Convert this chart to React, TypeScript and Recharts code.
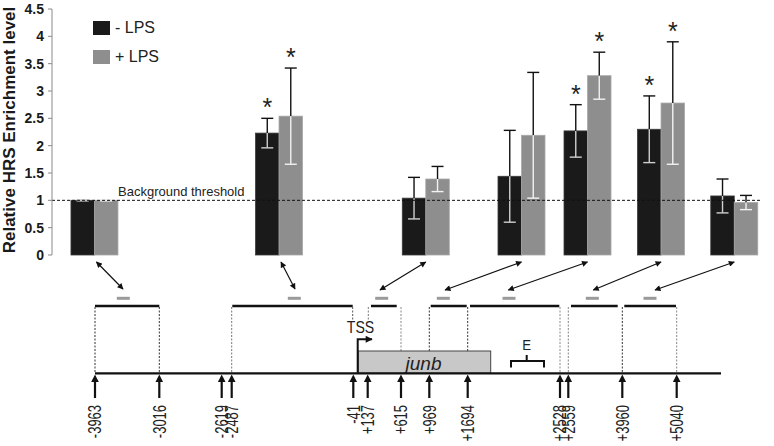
import React from 'react';
import { ComposedChart, Bar, XAxis, YAxis, ReferenceLine, Legend, Customized, Label } from 'recharts';

// ---------- data ----------
const regions = ['-3963/-3016', '-2487/-41', '+137/+615', '+969/+1694', '+1694/+2528', '+2559/+3960', '+3960/+5040'];
const regionSlots = [5.92, 31.95, 52.65, 66.15, 75.46, 85.83, 96.16];
const minusLPS = [1.0, 2.23, 1.04, 1.44, 2.27, 2.3, 1.08];
const minusSD = [0.01, 0.27, 0.38, 0.84, 0.48, 0.61, 0.31];
const minusSig = [false, true, false, false, true, true, false];
const plusLPS = [1.0, 2.54, 1.39, 2.19, 3.28, 2.78, 0.96];
const plusSD = [0.01, 0.88, 0.23, 1.15, 0.43, 1.12, 0.13];
const plusSig = [false, true, false, false, true, true, false];
const yTicks = [0, 0.5, 1, 1.5, 2, 2.5, 3, 3.5, 4, 4.5];
const threshold = 1;
const seriesOrder = ['minus', 'plus'];
const markerLabels = ['-3963', '-3016', '-2619', '-2487', '-41', '+137', '+615', '+969', '+1694', '+2528', '+2559', '+3960', '+5040'];

const data = regions.map((r, i) => ({
  region: r,
  slot: regionSlots[i],
  minus: minusLPS[i],
  minusSD: minusSD[i],
  minusSig: minusSig[i],
  plus: plusLPS[i],
  plusSD: plusSD[i],
  plusSig: plusSig[i],
}));

// ---------- schematic layout (diagram, not data) ----------
const markerX = [95, 159.3, 221.7, 231.7, 353.3, 367.7, 401, 429.3, 467.7, 560, 568.3, 622.3, 676.7];
const segs: [number, number][] = [[95, 159.3], [232.3, 352.7], [371, 396.7], [430.7, 466.7], [470, 559.3], [571, 617.7], [624.3, 676]];
const dashX = [123.3, 294.3, 381.7, 443.3, 509, 592.3, 650];
const arrowEnd: [number, number][] = [[123, 289], [295, 289], [380, 290], [445, 290], [508.3, 290], [593.3, 290], [655, 290]];
const guides: [number, number, string][] = [
  [95, 373, '#333'], [159.3, 373, '#333'], [231.7, 373, '#777'], [352.7, 320, '#555'], [368.3, 320, '#777'],
  [401, 351, '#888'], [429.3, 351, '#333'], [467.7, 351, '#333'], [560, 373, '#888'], [568.3, 373, '#888'],
  [622.3, 373, '#333'], [676.7, 373, '#888'],
];
const SANS = '"Liberation Sans", Arial, sans-serif';

const makeShape = (valKey: string, sdKey: string, sigKey: string, fill: string, inner: string, withArrow: boolean) =>
  (props: any) => {
    const { x, y, width, height, payload, index } = props;
    const v = payload[valKey];
    const k = v > 0 ? height / v : 0;
    const cx = x + width / 2;
    const sd = payload[sdKey];
    const yHi = y - sd * k;
    const yLo = y + sd * k;
    const topColor = yHi < y - 2 ? '#111' : inner;
    return (
      <g>
        <rect x={x} y={y} width={width} height={height} fill={fill} stroke={fill === '#1a1a1a' ? '#3a3a3a' : '#a8a8a8'} strokeWidth={0.8} />
        <line x1={cx} x2={cx} y1={yHi} y2={y} stroke="#111" strokeWidth={1.4} />
        <line x1={cx} x2={cx} y1={y} y2={yLo} stroke={inner} strokeWidth={1.4} />
        <line x1={cx - 6} x2={cx + 6} y1={yHi} y2={yHi} stroke={topColor} strokeWidth={1.4} />
        <line x1={cx - 6} x2={cx + 6} y1={yLo} y2={yLo} stroke={inner} strokeWidth={1.4} />
        {payload[sigKey] && (
          <text x={cx} y={yHi - 2} textAnchor="middle" fontSize={25} fontFamily={SANS} fill="#222">*</text>
        )}
        {withArrow && (
          <line x1={x + (index < 2 ? 2 : 0)} y1={262} x2={arrowEnd[index][0]} y2={arrowEnd[index][1]} stroke="#111" strokeWidth={1.2}
            markerStart="url(#ah)" markerEnd="url(#ah)" />
        )}
      </g>
    );
  };

const Schematic = () => (
  <g>
    <defs>
      <marker id="ah" viewBox="0 0 10 10" refX="9" refY="5" markerWidth="7" markerHeight="6" markerUnits="userSpaceOnUse" orient="auto-start-reverse">
        <path d="M0,0 L10,5 L0,10 z" fill="#111" />
      </marker>
      <marker id="ah2" viewBox="0 0 10 10" refX="9" refY="5" markerWidth="8" markerHeight="7" markerUnits="userSpaceOnUse" orient="auto">
        <path d="M0,0 L10,5 L0,10 z" fill="#111" />
      </marker>
    </defs>
    {dashX.map((x, i) => (
      <line key={'d' + i} x1={x - 6.5} x2={x + 6.5} y1={298.3} y2={298.3} stroke="#9a9a9a" strokeWidth={3} />
    ))}
    {segs.map(([a, b], i) => (
      <line key={'s' + i} x1={a} x2={b} y1={306} y2={306} stroke="#111" strokeWidth={2.5} />
    ))}
    {guides.map(([x, y2, c], i) => (
      <line key={'g' + i} x1={x} x2={x} y1={307} y2={y2} stroke={c} strokeWidth={1} strokeDasharray="2 1.5" />
    ))}
    <rect x={358.3} y={351} width={132.4} height={22.3} fill="#c8c8c8" stroke="#444" strokeWidth={1} />
    <text x={423.5} y={369.5} textAnchor="middle" fontSize={19} fontStyle="italic" fontFamily={SANS} fill="#222">junb</text>
    <path d="M357.7,373 V339.3 H372" fill="none" stroke="#111" strokeWidth={2} markerEnd="url(#ah2)" />
    <text transform="translate(360.5,333) scale(0.88,1)" textAnchor="middle" fontSize={16} fontFamily={SANS} fill="#222">TSS</text>
    <path d="M511,367.5 V361 H544 V367.5 M526.7,361 V355" fill="none" stroke="#111" strokeWidth={2} />
    <text transform="translate(526.7,350) scale(0.88,1)" textAnchor="middle" fontSize={15} fontFamily={SANS} fill="#222">E</text>
    <line x1={95} x2={721} y1={373.3} y2={373.3} stroke="#111" strokeWidth={2.2} />
    {markerX.map((x, i) => (
      <g key={'m' + i}>
        <line x1={x} x2={x} y1={398} y2={380} stroke="#111" strokeWidth={2.2} />
        <path d={`M${x - 3.8},${382} L${x},${374.5} L${x + 3.8},${382} z`} fill="#111" />
        <text transform={`translate(${x},405) rotate(-90) scale(0.72,1)`} textAnchor="end" dy="0.35em" fontSize={18} fontFamily={SANS} fill="#222">
          {markerLabels[i]}
        </text>
      </g>
    ))}
  </g>
);

const LegendContent = (props: any) => {
  const items = [...(props.payload || [])].sort(
    (a: any, b: any) => seriesOrder.indexOf(a.dataKey) - seriesOrder.indexOf(b.dataKey)
  );
  return (
    <div style={{ fontFamily: SANS, fontSize: 16, color: '#222' }}>
      {items.map((it: any, i: number) => (
        <div key={i} style={{ display: 'flex', alignItems: 'center', height: 29 }}>
          <span style={{ display: 'inline-block', width: 17, height: 14, background: it.color, marginRight: 5 }} />
          <span style={{ lineHeight: '16px' }}>{it.value}</span>
        </div>
      ))}
    </div>
  );
};

export default function App() {
  return (
    <div style={{ position: 'absolute', left: 0, top: 0, width: 774, height: 446, background: '#fff' }}>
      <ComposedChart width={774} height={446} data={data} margin={{ top: 9, right: 13, bottom: 191, left: 0 }} barGap={0}>
        <XAxis dataKey="slot" type="number" domain={[0, 100]} tick={false} tickLine={false} axisLine={{ stroke: '#555' }} height={0} />
        <YAxis
          domain={[0, 4.5]}
          ticks={yTicks}
          width={52}
          interval={0}
          tickSize={4}
          tickMargin={4}
          axisLine={{ stroke: '#8a8a8a' }}
          tickLine={{ stroke: '#8a8a8a' }}
          tick={{ fontSize: 14, fontWeight: 700, fontFamily: SANS, fill: '#1a1a1a' }}
          tickFormatter={(v: number) => String(v)}
        >
          <Label
            content={() => (
              <text transform="translate(9,130) rotate(-90)" textAnchor="middle" dy="0.36em" fontSize={17} fontWeight={700} fontFamily={SANS} fill="#1a1a1a">
                Relative HRS Enrichment level
              </text>
            )}
          />
        </YAxis>
        <Legend
          layout="vertical"
          align="center"
          verticalAlign="middle"
          content={<LegendContent />}
          wrapperStyle={{ left: 93, top: 13, width: 120, height: 60 }}
        />
        <ReferenceLine
          y={threshold}
          stroke="#111"
          strokeDasharray="3 2"
          strokeWidth={1}
          label={{
            content: (p: any) => (
              <text x={118} y={p.viewBox.y - 4} fontSize={13} fontFamily={SANS} fill="#222">Background threshold</text>
            ),
          }}
        />
        <Bar dataKey="minus" name="- LPS" fill="#1a1a1a" barSize={23.5} isAnimationActive={false}
          shape={makeShape('minus', 'minusSD', 'minusSig', '#1a1a1a', '#cfcfcf', false)} />
        <Bar dataKey="plus" name="+ LPS" fill="#8e8e8e" barSize={23.5} isAnimationActive={false}
          shape={makeShape('plus', 'plusSD', 'plusSig', '#8e8e8e', '#f2f2f2', true)} />
        <Customized component={Schematic} />
      </ComposedChart>
    </div>
  );
}
